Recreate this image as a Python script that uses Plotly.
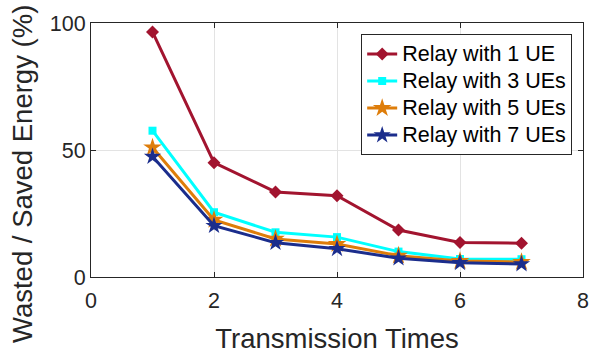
import plotly.graph_objects as go

x_times = [1, 2, 3, 4, 5, 6, 7]
relay_1ue = [96.5, 45.0, 33.5, 32.0, 18.5, 13.6, 13.3]
relay_3ues = [57.6, 25.5, 17.6, 15.7, 10.0, 7.1, 7.0]
relay_5ues = [51.0, 22.5, 15.0, 13.0, 8.4, 6.3, 5.9]
relay_7ues = [47.4, 20.2, 13.5, 11.1, 7.4, 5.6, 5.1]

series_names = ["Relay with 1 UE", "Relay with 3 UEs", "Relay with 5 UEs", "Relay with 7 UEs"]
series_vals = [relay_1ue, relay_3ues, relay_5ues, relay_7ues]
colors = ["#A2142F", "#00FFFF", "#DE7D0A", "#1B2D8C"]
symbols = ["diamond", "square", "star", "star"]
sizes = [10, 8, 14, 13]

x_ticks = [0, 2, 4, 6, 8]
y_ticks = [0, 50, 100]

fig = go.Figure()
for name, vals, c, s, sz in zip(series_names, series_vals, colors, symbols, sizes):
    fig.add_trace(go.Scatter(
        x=x_times, y=vals,
        name="<span style='font-size:21.5px'>" + name + "</span>",
        mode="lines+markers",
        line=dict(color=c, width=3),
        marker=dict(symbol=s, size=sz, color=c, line=dict(width=0)),
    ))

font_family = "Liberation Sans, Arial, sans-serif"
axis_common = dict(
    showline=True, linecolor="#262626", linewidth=1, mirror="ticks",
    ticks="inside", ticklen=5, tickcolor="#262626",
    showgrid=True, gridcolor="#E3E3E3", gridwidth=1, zeroline=False,
    tickfont=dict(size=21.5, color="#262626", family=font_family),
    automargin=False,
)
fig.update_xaxes(range=[0, 8], tickvals=x_ticks, ticklabelstandoff=4,
                 ticklabeloverflow="allow",
                 title=dict(text="Transmission Times", font=dict(size=27.5, color="#262626", family=font_family), standoff=18),
                 **axis_common)
fig.update_yaxes(range=[0, 100], tickvals=y_ticks, **axis_common)

fig.add_annotation(
    text="Wasted / Saved Energy (%)", textangle=-90,
    xref="paper", yref="paper", x=(22 - 91) / 492, y=(277 - 174) / 254,
    xanchor="center", yanchor="middle", showarrow=False,
    font=dict(size=27.5, color="#262626", family=font_family),
)

fig.update_layout(
    width=589, height=354,
    margin=dict(l=91, r=6, t=23, b=77),
    plot_bgcolor="white", paper_bgcolor="white",
    font=dict(family=font_family, color="#262626"),
    showlegend=True,
    legend=dict(
        x=0.978, y=0.955, xanchor="right", yanchor="top",
        bgcolor="white", bordercolor="#262626", borderwidth=1,
        font=dict(size=18.5, color="#000000", family=font_family),
        itemwidth=30, tracegroupgap=0,
    ),
)

fig.write_html("out.html")
